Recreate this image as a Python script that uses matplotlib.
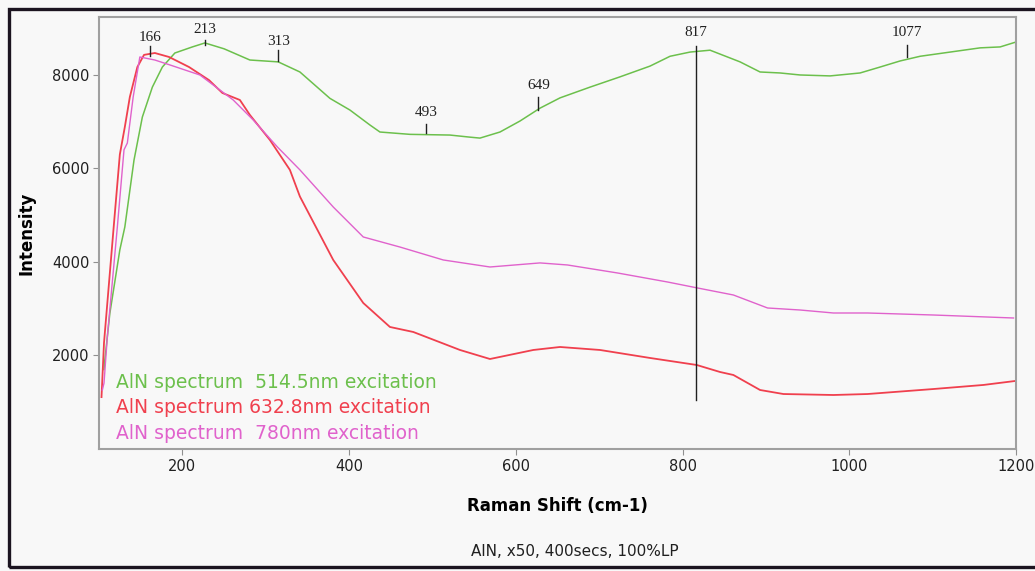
import matplotlib
matplotlib.use("Agg")
import matplotlib.pyplot as plt
from matplotlib.patches import Rectangle

# spectra (Raman shift in cm-1, intensity in counts)
green_x = [106, 107, 113, 125, 131, 142, 152, 164, 176, 191, 212, 227, 250, 281, 315,
           341, 377, 401, 425, 437, 473, 521, 545, 557, 581, 605, 629, 653, 689, 725,
           761, 785, 809, 833, 869, 893, 917, 941, 977, 1013, 1037, 1061, 1085, 1121,
           1157, 1181, 1200]
green_y = [1700, 1900, 2900, 4260, 4750, 6180, 7100, 7740, 8170, 8470, 8600, 8685, 8560,
           8320, 8280, 8064, 7500, 7250, 6930, 6780, 6730, 6715, 6670, 6650, 6780, 7015,
           7290, 7510, 7740, 7960, 8190, 8400, 8490, 8530, 8280, 8064, 8043, 8000, 7980,
           8043, 8170, 8300, 8400, 8490, 8580, 8600, 8705]

red_x = [103, 106, 112, 118, 125, 131, 137, 146, 154, 167, 184, 208, 232, 248, 269,
         281, 305, 329, 341, 381, 417, 449, 477, 533, 569, 621, 653, 701, 761, 817,
         845, 861, 893, 921, 981, 1022, 1101, 1161, 1199]
red_y = [1110, 2270, 3550, 4830, 6300, 6890, 7530, 8170, 8430, 8470, 8385, 8170, 7890,
         7615, 7465, 7145, 6610, 5970, 5400, 4043, 3123, 2610, 2503, 2118, 1925, 2118,
         2182, 2118, 1947, 1797, 1647, 1583, 1262, 1176, 1155, 1176, 1283, 1370, 1455]

pink_x = [104, 106, 110, 122, 130, 134, 141, 149, 167, 185, 221, 261, 285, 314, 341,
          381, 417, 461, 513, 569, 629, 662, 722, 782, 818, 861, 902, 941, 981, 1022,
          1101, 1197]
pink_y = [1260, 1410, 2400, 4750, 6400, 6545, 7530, 8385, 8320, 8215, 8000, 7465, 7037,
          6460, 5970, 5176, 4535, 4320, 4043, 3893, 3980, 3936, 3765, 3572, 3444, 3294,
          3016, 2973, 2909, 2909, 2866, 2802]

# peak markers: label, position, text height, tick top, tick bottom
peak_labels = ["166", "213", "313", "493", "649", "817", "1077"]
peak_x = [161, 227, 315, 492, 627, 816, 1069]
peak_text_y = [8791, 8962, 8706, 7208, 7765, 8898, 8898]
peak_top = [8620, 8749, 8535, 6952, 7529, 8620, 8642]
peak_bottom = [8406, 8642, 8300, 6760, 7251, 1048, 8385]

legend_texts = ["AlN spectrum  514.5nm excitation",
                "AlN spectrum 632.8nm excitation",
                "AlN spectrum  780nm excitation"]

green = "#6cc04c"
red = "#f0404e"
pink = "#e062cc"
bg = "#f8f8f8"

fig = plt.figure(figsize=(10.35, 5.71), dpi=100, facecolor=bg)
ax = fig.add_axes([99 / 1035, 1 - 449 / 571, 917 / 1035, 432 / 571], facecolor=bg)

ax.plot(green_x, green_y, color=green, lw=1.1)
ax.plot(red_x, red_y, color=red, lw=1.3)
ax.plot(pink_x, pink_y, color=pink, lw=1.0)

for lab, x, ty, t0, t1 in zip(peak_labels, peak_x, peak_text_y, peak_top, peak_bottom):
    ax.plot([x, x], [t1, t0], color="#202020", lw=1.0)
    ax.text(x, ty, lab, ha="center", va="center", fontsize=11,
            family="Liberation Serif", color="#202020")

ax.set_xlim(100, 1200)
ax.set_ylim(0, 9240)
ax.set_xticks([200, 400, 600, 800, 1000, 1200])
ax.set_yticks([2000, 4000, 6000, 8000])
ax.tick_params(direction="out", length=4, width=0.8, color="#909090",
               labelsize=10.5, labelcolor="#202020", pad=3)
for s in ax.spines.values():
    s.set_color("#a0a0a0")
    s.set_linewidth(1.5)

ax.set_xlabel("Raman Shift (cm-1)", fontsize=12, fontweight="bold", labelpad=17)
ax.set_ylabel("Intensity", fontsize=12, fontweight="bold", labelpad=12)

for i, (txt, col) in enumerate(zip(legend_texts, [green, red, pink])):
    ax.text(0.018, 0.153 - i * 0.058, txt, transform=ax.transAxes, color=col,
            fontsize=13.5, va="center", ha="left")

fig.text(575 / 1035, 1 - 552 / 571, "AlN, x50, 400secs, 100%LP", ha="center",
         va="center", fontsize=11, color="#202020")

fig.patches.append(Rectangle((9 / 1035, 1 - 567 / 571), 1.1, 558 / 571,
                             transform=fig.transFigure, fill=False,
                             edgecolor="#1c1420", lw=2.4))

fig.savefig("out.png", dpi=100, facecolor=bg)
